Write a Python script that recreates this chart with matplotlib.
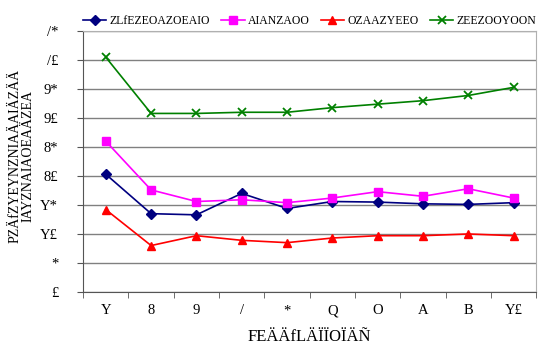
import matplotlib
matplotlib.use("Agg")
import matplotlib.pyplot as plt
from matplotlib.ticker import FixedLocator

# 数据
categories = ["Y", "8", "9", "/", "*", "Q", "O", "A", "B", "Y£"]
y_tick_labels = ["£", "*", "Y£", "Y*", "8£", "8*", "9£", "9*", "/£", "/*"]
series_names = ["ZLfEZEOAZOEAIO", "AIANZAOO", "OZAAZYEEO", "ZEEZOOYOON"]

navy_vals = [20.3, 13.5, 13.3, 17.0, 14.4, 15.6, 15.5, 15.2, 15.1, 15.4]
magenta_vals = [26.0, 17.6, 15.6, 15.9, 15.4, 16.2, 17.3, 16.5, 17.8, 16.2]
red_vals = [14.2, 8.0, 9.7, 8.9, 8.5, 9.3, 9.7, 9.7, 10.0, 9.7]
green_vals = [40.5, 30.8, 30.8, 31.0, 31.0, 31.8, 32.4, 33.0, 33.9, 35.3]

plt.rcParams['font.family'] = ['Liberation Serif', 'DejaVu Serif']

fig = plt.figure(figsize=(5.4, 3.5), dpi=100)
ax = fig.add_axes([0.154, 0.166, 0.839, 0.745])

x = list(range(len(categories)))
ax.plot(x, navy_vals, color="#000080", marker="D", markersize=5, lw=1.2, label=series_names[0])
ax.plot(x, magenta_vals, color="#ff00ff", marker="s", markersize=5.5, lw=1.2, label=series_names[1])
ax.plot(x, red_vals, color="#ff0000", marker="^", markersize=6, lw=1.2, label=series_names[2])
ax.plot(x, green_vals, color="#008000", marker="x", markersize=6, mew=1.3, lw=1.2, label=series_names[3])

ax.set_xlim(-0.5, len(categories) - 0.5)
ax.set_ylim(0, 45)
ax.set_yticks([i * 5 for i in range(10)])
ax.set_yticklabels(y_tick_labels, fontsize=10.5)
ax.set_xticks(x)
ax.set_xticklabels(categories, fontsize=10.5)
ax.tick_params(axis="x", length=0, pad=9)
ax.xaxis.set_minor_locator(FixedLocator([i + 0.5 for i in range(-1, len(categories))]))
ax.tick_params(axis="x", which="minor", length=4, color="#555555")
ax.tick_params(axis="y", length=4, color="#555555", pad=14)

ax.grid(axis="y", color="#808080", lw=1)
ax.set_axisbelow(True)
for side in ["top", "right"]:
    ax.spines[side].set_color("#b0b0b0")
for side in ["left", "bottom"]:
    ax.spines[side].set_color("#555555")

ax.set_xlabel("FEÄÄfLÄÏÏOÏÄÑ", fontsize=12, labelpad=8)
ax.set_ylabel("PZÄfZYEYNZNIAÄAIÄZÄÄ\nIAYZNAIAOEAÄZEA", fontsize=10,
              linespacing=1.0)
ax.yaxis.set_label_coords(-0.108, 0.52)

ax.legend(loc="lower center", bbox_to_anchor=(0.5, 1.0), ncol=4, frameon=False,
          fontsize=8.5, handlelength=2.0, columnspacing=0.9, handletextpad=0.3,
          borderaxespad=0.15, borderpad=0.2)

fig.savefig("out.png", dpi=100)
